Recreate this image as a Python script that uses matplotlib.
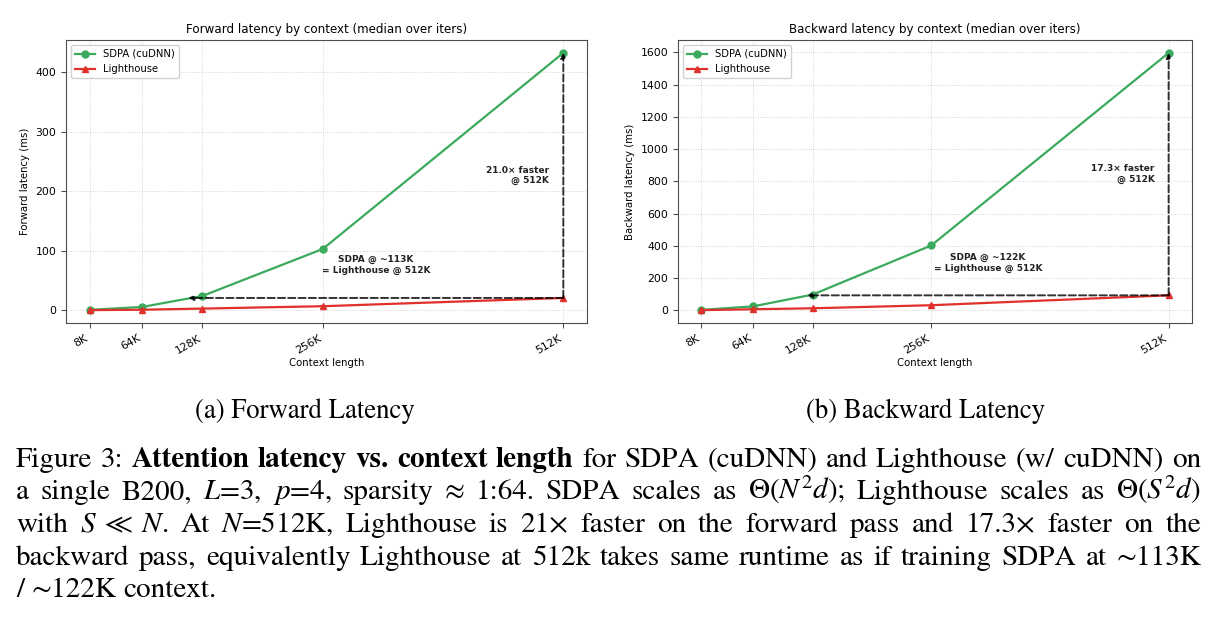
import re
import matplotlib
matplotlib.use('Agg')
import matplotlib.pyplot as plt

# data (context in K tokens, latency in ms)
ctx = [8, 64, 128, 256, 512]
ctx_labels = ['8K', '64K', '128K', '256K', '512K']

fwd_sdpa = [0.6, 5.5, 24, 103, 433]
fwd_lh = [0.1, 0.8, 2.7, 6.7, 20.6]
bwd_sdpa = [2, 24, 97, 402, 1597]
bwd_lh = [0.5, 6, 12, 31, 92.3]

fwd_eq = 113   # SDPA context with same latency as Lighthouse @ 512K
bwd_eq = 122

green = '#3BAA5C'
red = '#E0302A'

plt.rcParams['mathtext.fontset'] = 'stix'

fig = plt.figure(figsize=(12.19, 6.22), dpi=100)
W, H = 1219, 622


def draw_panel(ax, sdpa, lh, eq, title, ylabel, eq_text_y):
    ax.plot(ctx, sdpa, color=green, marker='o', lw=1.6, ms=5, label='SDPA (cuDNN)')
    ax.plot(ctx, lh, color=red, marker='^', lw=1.6, ms=5, label='Lighthouse')
    x_end = ctx[-1]
    arrow = dict(arrowstyle='-|>', ls='--', lw=1.4, color='k', alpha=0.8,
                 mutation_scale=7, shrinkA=0, shrinkB=0)
    ax.annotate('', xy=(x_end, sdpa[-1]), xytext=(x_end, lh[-1]), arrowprops=arrow)
    ax.annotate('', xy=(eq, lh[-1]), xytext=(x_end, lh[-1]), arrowprops=arrow)
    speed = sdpa[-1] / lh[-1]
    ax.text(x_end * 0.97, (sdpa[-1] + lh[-1]) / 2, f'{speed:.1f}\u00d7 faster\n@ 512K',
            ha='right', va='center', fontsize=6.5, fontweight='bold', color='#222222')
    ax.text((eq + x_end) / 2, eq_text_y, f'SDPA @ ~{eq}K\n= Lighthouse @ 512K',
            ha='center', va='center', fontsize=6.5, fontweight='bold', color='#222222')
    ax.set_title(title, fontsize=8.6, pad=5)
    ax.set_xlabel('Context length', fontsize=7.3, labelpad=2)
    ax.set_ylabel(ylabel, fontsize=7.3)
    ax.set_xticks(ctx)
    ax.set_xticklabels(ctx_labels, rotation=30, ha='right')
    ax.tick_params(labelsize=7.8, color='0.3', length=3.5)
    ax.grid(True, ls=':', lw=0.6, color='0.75', alpha=0.8)
    for s in ax.spines.values():
        s.set_color('0.3')
    ax.legend(loc='upper left', fontsize=7.2, framealpha=0.9, edgecolor='0.8')


ax1 = fig.add_axes([66 / W, 1 - 323 / H, 521 / W, 283 / H])
draw_panel(ax1, fwd_sdpa, fwd_lh, fwd_eq,
           'Forward latency by context (median over iters)', 'Forward latency (ms)', 76)
ax2 = fig.add_axes([678 / W, 1 - 323 / H, 514 / W, 283 / H])
draw_panel(ax2, bwd_sdpa, bwd_lh, bwd_eq,
           'Backward latency by context (median over iters)', 'Backward latency (ms)', 292)

# captions
cap_font = 'STIXGeneral'
sub_size = 19.3
cap_size = 21
fig.text(305 / W, 1 - 418 / H, '(a) Forward Latency', family=cap_font, fontsize=sub_size,
         ha='center', va='baseline')
fig.text(926 / W, 1 - 418 / H, '(b) Backward Latency', family=cap_font, fontsize=sub_size,
         ha='center', va='baseline')

caption = [
    [('Figure 3:', 'normal'), ('Attention latency vs. context length', 'bold'),
     ('for SDPA (cuDNN) and Lighthouse (w/ cuDNN) on', 'normal')],
    [('a single B200, $L$=3, $p$=4, sparsity \u2248 1:64. SDPA scales as $\\Theta(N^2d)$; '
      'Lighthouse scales as $\\Theta(S^2d)$', 'normal')],
    [('with $S\\;\\ll\\;N$. At $N$=512K, Lighthouse is 21\u00d7 faster on the forward pass and '
      '17.3\u00d7 faster on the', 'normal')],
    [('backward pass, equivalently Lighthouse at 512k takes same runtime as if training SDPA at '
      '\u223c113K', 'normal')],
    [('/ \u223c122K context.', 'normal')],
]
baselines = [467, 499, 532, 565, 597]
x0, x1 = 16, 1201
renderer = fig.canvas.get_renderer()

for i, (segs, yb) in enumerate(zip(caption, baselines)):
    words = []
    for txt, wt in segs:
        for w in re.findall(r'(?:\$[^$]*\$|\S)+', txt):
            words.append((w, wt))
    arts = [fig.text(0, 1 - yb / H, w, family=cap_font, fontsize=cap_size, fontweight=wt,
                     ha='left', va='baseline') for w, wt in words]
    widths = [a.get_window_extent(renderer).width for a in arts]
    if i < len(caption) - 1:
        gap = (x1 - x0 - sum(widths)) / (len(arts) - 1)
    else:
        gap = cap_size * 100 / 72 * 0.25
    x = x0
    for a, wd in zip(arts, widths):
        a.set_x(x / W)
        x += wd + gap

fig.savefig('out.png', dpi=100)
